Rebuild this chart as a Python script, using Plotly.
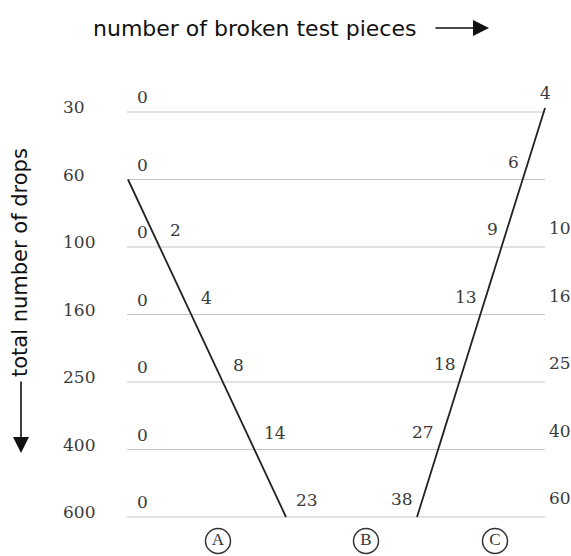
import plotly.graph_objects as go

# ---- data ----
DROPS = [30, 60, 100, 160, 250, 400, 600]          # total number of drops (rows)
COL_A = [0, 0, 0, 0, 0, 0, 0]                        # left column values
COL_B = [None, None, 2, 4, 8, 14, 23]                # right of boundary A
COL_C = [4, 6, 9, 13, 18, 27, 38]                    # left of boundary C
COL_D = [None, None, 10, 16, 25, 40, 60]             # right of boundary C
REGIONS = ["A", "B", "C"]
X_TITLE = "number of broken test pieces"
Y_TITLE = "total number of drops"

# ---- layout / style constants (pixel geometry of the schematic) ----
W, H = 571, 556
PX_L, PX_R = 127, 545          # pixel x of x=0 and x=1
ROW0_PX, ROW_STEP = 112, 67.5  # pixel y of row 0 and spacing
X_SPAN = PX_R - PX_L

def px_x(v):
    return (v - PX_L) / X_SPAN

# boundary A: from row 1 to row 6
A_TOP = (1, px_x(128))
A_BOT = (6, px_x(286))
# boundary C: from just above row 0 to row 6
C_TOP = (-0.06, px_x(545))
C_BOT = (6, px_x(417))

def x_on(line_top, line_bot, y):
    (y0, x0), (y1, x1) = line_top, line_bot
    return x0 + (x1 - x0) * (y - y0) / (y1 - y0)

LABEL_UP = 17                      # px above row line
LABEL_DY = LABEL_UP / ROW_STEP
NUM_FONT = dict(family="DejaVu Serif, serif", size=17, color="#3a3a3a")
SANS = "DejaVu Sans, Verdana, sans-serif"
GRID_COLOR = "#c4c4c4"
LINE_COLOR = "#222222"

rows = list(range(len(DROPS)))
fig = go.Figure()

# horizontal row lines
hx, hy = [], []
for r in rows:
    hx += [0, 1, None]
    hy += [r, r, None]
fig.add_trace(go.Scatter(x=hx, y=hy, mode="lines",
                         line=dict(color=GRID_COLOR, width=1), hoverinfo="skip"))

# boundary lines
for top, bot in [(A_TOP, A_BOT), (C_TOP, C_BOT)]:
    fig.add_trace(go.Scatter(x=[top[1], bot[1]], y=[top[0], bot[0]], mode="lines",
                             line=dict(color=LINE_COLOR, width=1.8), hoverinfo="skip"))

ann = []
# row labels (drops)
for r, d in zip(rows, DROPS):
    ann.append(dict(x=61 / W, xref="paper", y=r, yref="y", text=str(d), showarrow=False,
                    xanchor="left", yanchor="middle", yshift=5, font=NUM_FONT))
# column A zeros
for r, v in zip(rows, COL_A):
    ann.append(dict(x=px_x(142), y=r, text=str(v), showarrow=False, xanchor="center",
                    yanchor="middle", yshift=15, font=NUM_FONT))
# column B (right of A boundary)
for r, v in zip(rows, COL_B):
    if v is None:
        continue
    ann.append(dict(x=x_on(A_TOP, A_BOT, r - LABEL_DY), y=r, text=str(v), showarrow=False,
                    xanchor="left", yanchor="middle", yshift=LABEL_UP, xshift=16, font=NUM_FONT))
# column C (left of C boundary)
for r, v in zip(rows, COL_C):
    if r == 0:
        ann.append(dict(x=C_TOP[1], y=r, text=str(v), showarrow=False, xanchor="center",
                        yanchor="middle", yshift=19, font=NUM_FONT))
        continue
    ann.append(dict(x=x_on(C_TOP, C_BOT, r - LABEL_DY), y=r, text=str(v), showarrow=False,
                    xanchor="right", yanchor="middle", yshift=LABEL_UP + 1, xshift=-7, font=NUM_FONT))
# column D (right edge)
for r, v in zip(rows, COL_D):
    if v is None:
        continue
    ann.append(dict(x=px_x(547), y=r, text=str(v), showarrow=False, xanchor="left",
                    yanchor="middle", yshift=LABEL_UP + 2, font=NUM_FONT))

# region markers (circled letters)
REGION_X = [px_x(218), px_x(366), px_x(495)]
REGION_Y = (541 - ROW0_PX) / ROW_STEP
fig.add_trace(go.Scatter(x=REGION_X, y=[REGION_Y] * len(REGIONS), mode="markers+text",
                         text=REGIONS, textposition="middle center",
                         textfont=dict(family="Liberation Serif, serif", size=17, color="#333"),
                         marker=dict(symbol="circle-open", size=25, color="#333",
                                     line=dict(width=1.5)),
                         hoverinfo="skip", cliponaxis=False))

# titles with arrows
ann.append(dict(x=91 / W, xref="paper", y=1 - 28 / H, yref="paper", text=X_TITLE,
                showarrow=False, xanchor="left", yanchor="middle",
                font=dict(family=SANS, size=22, color="#111")))
ann.append(dict(x=489 / W, xref="paper", y=1 - 28 / H, yref="paper", text="",
                showarrow=True, ax=-55, ay=0, arrowhead=2, arrowsize=2, arrowwidth=1.6,
                arrowcolor="#111"))
ann.append(dict(x=20 / W, xref="paper", y=1 - 263 / H, yref="paper", text=Y_TITLE,
                textangle=-90, showarrow=False, xanchor="center", yanchor="middle",
                font=dict(family=SANS, size=21, color="#111")))
ann.append(dict(x=21 / W, xref="paper", y=1 - 453 / H, yref="paper", text="",
                showarrow=True, ax=0, ay=-73, arrowhead=2, arrowsize=2, arrowwidth=1.6,
                arrowcolor="#111"))

fig.update_layout(
    width=W, height=H, margin=dict(l=0, r=0, t=0, b=0),
    paper_bgcolor="white", plot_bgcolor="white", showlegend=False,
    xaxis=dict(visible=False, range=[-PX_L / X_SPAN, 1 + (W - PX_R) / X_SPAN]),
    yaxis=dict(visible=False, range=[(H - ROW0_PX) / ROW_STEP, -ROW0_PX / ROW_STEP]),
    annotations=ann,
)

# remove the default 8px page margin so the figure fills the window exactly
fig.write_html("out.html", config={"displayModeBar": False},
               post_script="document.body.style.margin='0px';document.body.style.overflow='hidden';")
